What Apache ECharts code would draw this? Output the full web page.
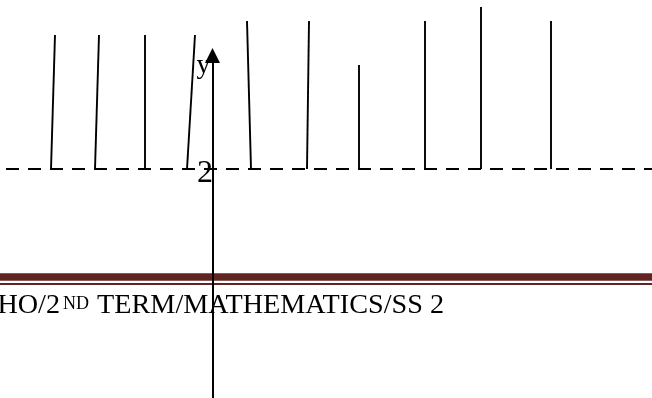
<!DOCTYPE html>
<html>
<head>
<meta charset="utf-8">
<script src="https://cdn.jsdelivr.net/npm/echarts@6/dist/echarts.min.js"></script>
<style>
  html, body { margin: 0; padding: 0; background: #ffffff; }
  #chart { width: 652px; height: 398px; }
</style>
</head>
<body>
<div id="chart"></div>
<script>
// Vertical strokes standing on the dashed level y = 2:
// x where each stroke meets the level, x at its top end, and the height of the top end.
const baseX = [-16.15, -11.75, -6.75, -2.55, 3.85, 9.45, 14.65, 21.25, 26.85, 33.85];
const topX  = [-15.75, -11.35, -6.75, -1.75, 3.45, 9.65, 14.65, 21.25, 26.85, 33.85];
const topY  = [15.4, 15.4, 15.4, 15.4, 16.8, 16.8, 12.4, 16.8, 18.2, 16.8];

// Dashed reference level and the y-axis tick that labels it
const baseLevel = 2;
const yTickValues = [2];
const yTickLabels = ['2'];
const yAxisName = 'y';

// Axis extents
const xMin = -21.25, xMax = 43.95;
const yMin = -20.9, yMax = 13.35;

// Running footer under the page rule
const footerMain1 = 'HO/2';
const footerSup = 'ND';
const footerMain2 = ' TERM/MATHEMATICS/SS 2';

const strokes = baseX.map((b, i) => [b, topX[i], topY[i]]);
const tickItems = yTickValues.map((v, i) => [0, v, yTickLabels[i]]);

const chart = echarts.init(document.getElementById('chart'), null, { renderer: 'canvas' });

const serif = '"Liberation Serif", "DejaVu Serif", serif';
const ruleColor = '#622423';

chart.setOption({
  animation: false,
  backgroundColor: '#ffffff',
  grid: { left: 0, right: 0, top: 55.5, bottom: 0, containLabel: false, outerBoundsMode: 'none' },
  xAxis: {
    type: 'value',
    min: xMin,
    max: xMax,
    show: false
  },
  yAxis: {
    type: 'value',
    min: yMin,
    max: yMax,
    axisLine: {
      show: true,
      onZero: true,
      symbol: ['none', 'triangle'],
      symbolSize: [15, 15],
      lineStyle: { color: '#000000', width: 2 }
    },
    axisTick: { show: false },
    splitLine: { show: false },
    axisLabel: { show: false }
  },
  graphic: [
    {
      type: 'rect',
      z: -5,
      shape: { x: 0, y: 273.3, width: 652, height: 7.4 },
      style: { fill: ruleColor }
    },
    {
      type: 'rect',
      z: -5,
      shape: { x: 0, y: 283, width: 652, height: 2 },
      style: { fill: ruleColor }
    },
    {
      type: 'text',
      z: -4,
      x: 444,
      y: 306,
      style: {
        text: '{a|' + footerMain1 + '}{s|' + footerSup + '}{a|' + footerMain2 + '}',
        align: 'right',
        verticalAlign: 'middle',
        fill: '#000000',
        rich: {
          a: { fontFamily: serif, fontSize: 28.2, lineHeight: 34, fill: '#000000' },
          s: { fontFamily: serif, fontSize: 18, lineHeight: 24, verticalAlign: 'top', padding: [6, 1, 0, 3], fill: '#000000' }
        }
      }
    }
  ],
  series: [
    {
      type: 'custom',
      name: 'strokes',
      data: strokes,
      encode: { x: [0, 1], y: 2 },
      renderItem: function (params, api) {
        const p0 = api.coord([api.value(0), baseLevel]);
        const p1 = api.coord([api.value(1), api.value(2)]);
        return {
          type: 'line',
          shape: { x1: p0[0], y1: p0[1], x2: p1[0], y2: p1[1] },
          style: { stroke: '#000000', lineWidth: 1.9 }
        };
      },
      markLine: {
        silent: true,
        symbol: ['none', 'none'],
        label: { show: false },
        lineStyle: { color: '#000000', width: 2, type: [13, 9], dashOffset: 16 },
        emphasis: { disabled: true },
        data: [{ yAxis: baseLevel }]
      }
    },
    {
      // Tick label beside the y-axis and the axis name under its arrow
      type: 'custom',
      name: 'axisText',
      silent: true,
      z: 5,
      data: tickItems,
      encode: { x: 0, y: 1 },
      renderItem: function (params, api) {
        const p = api.coord([api.value(0), api.value(1)]);
        const children = [{
          type: 'text',
          x: p[0] + 0.5,
          y: p[1] + 4.5,
          style: {
            text: yTickLabels[params.dataIndex],
            font: '32px ' + serif,
            fill: '#000000',
            align: 'right',
            verticalAlign: 'middle'
          }
        }];
        if (params.dataIndex === 0) {
          const top = api.coord([0, yMax]);
          children.push({
            type: 'text',
            x: top[0] - 2,
            y: top[1] + 10,
            style: {
              text: yAxisName,
              font: '28px ' + serif,
              fill: '#000000',
              align: 'right',
              verticalAlign: 'middle'
            }
          });
        }
        return { type: 'group', children: children };
      }
    }
  ]
});
</script>
</body>
</html>
